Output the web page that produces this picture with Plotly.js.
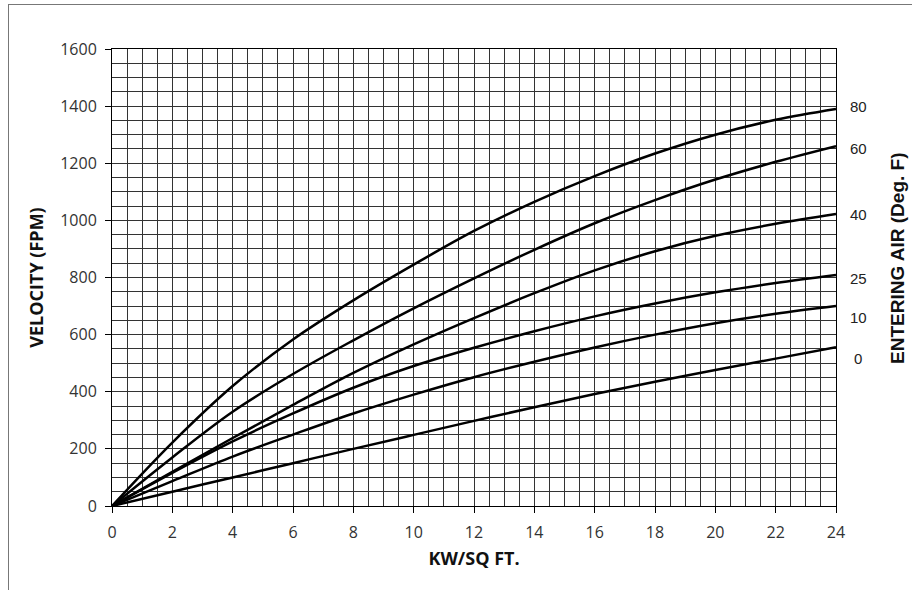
<!DOCTYPE html>
<html>
<head>
<meta charset="utf-8">
<script src="https://cdn.plot.ly/plotly-3.0.1.min.js"></script>
<style>
  html, body { margin: 0; padding: 0; background: #fff; }
  #wrap { position: relative; width: 912px; height: 590px; overflow: hidden; }
  #frame { position: absolute; left: 8px; top: 4px; width: 920px; height: 600px;
           border-left: 1px solid #777; border-top: 1px solid #777; pointer-events: none; }
  #chart { position: absolute; left: 0; top: 0; width: 912px; height: 590px; }
</style>
</head>
<body>
<div id="wrap">
  <div id="chart"></div>
  <div id="frame"></div>
</div>
<script>
// KW/SQ FT. values
const kw = [0, 2, 4, 6, 8, 10, 12, 14, 16, 18, 20, 22, 24];
// Velocity (FPM) for each entering air temperature (Deg. F)
const temps = ["80", "60", "40", "25", "10", "0"];
const v80 = [0, 222, 420, 583, 720, 845, 963, 1065, 1155, 1234, 1300, 1352, 1390];
const v60 = [0, 170, 330, 462, 580, 692, 797, 897, 990, 1071, 1143, 1205, 1260];
const v40 = [0, 120, 238, 354, 466, 566, 658, 745, 825, 892, 946, 988, 1022];
const v25 = [0, 116, 226, 324, 414, 490, 554, 612, 664, 709, 748, 781, 809];
const v10 = [0, 87, 173, 250, 324, 390, 451, 505, 555, 600, 640, 673, 700];
const v0  = [0, 50, 100, 150, 200, 249, 298, 346, 392, 435, 476, 516, 556];
const series = [v80, v60, v40, v25, v10, v0];

// label vertical nudges (px), style only
const labelShift = [2, -2, 0, -4, -11, -11];

const traces = series.map((vals, i) => ({
  x: kw, y: vals, type: 'scatter', mode: 'lines', name: temps[i],
  line: { color: '#000', width: 2.5, shape: 'spline', smoothing: 1 },
  hoverinfo: 'x+y+name', showlegend: false
}));

const annotations = series.map((vals, i) => ({
  x: kw[kw.length - 1], y: vals[vals.length - 1], xref: 'x', yref: 'y',
  text: temps[i], showarrow: false, xanchor: 'center', yanchor: 'middle',
  xshift: 22, yshift: labelShift[i],
  font: { family: 'Liberation Sans, Arial, sans-serif', size: 15, color: '#222' }
}));
annotations.push({
  xref: 'paper', yref: 'paper', x: 1.0856, y: 0.5427,
  text: '<b>ENTERING AIR (Deg. F)</b>', showarrow: false, textangle: -90,
  xanchor: 'center', yanchor: 'middle',
  font: { family: 'Liberation Sans, Arial, sans-serif', size: 19, color: '#111' }
});

const gridCol = '#333';
const layout = {
  width: 912, height: 590,
  margin: { l: 112, r: 76, t: 49, b: 84 },
  paper_bgcolor: '#fff', plot_bgcolor: '#fff',
  font: { family: 'Open Sans, sans-serif', color: '#333' },
  xaxis: {
    range: [0, 24], dtick: 2, tick0: 0,
    showgrid: true, gridcolor: gridCol, gridwidth: 1,
    minor: { dtick: 0.5, showgrid: true, gridcolor: gridCol, gridwidth: 1, ticks: '' },
    ticks: 'outside', ticklen: 6, tickcolor: '#000', tickwidth: 1,
    ticklabelstandoff: 6,
    showline: true, linecolor: '#000', linewidth: 1, mirror: true,
    zeroline: false, fixedrange: true,
    tickfont: { family: 'Open Sans, sans-serif', size: 16, color: '#333' },
    title: { text: '<b>KW/SQ FT.</b>', standoff: 10,
             font: { family: 'Open Sans, sans-serif', size: 18, color: '#111' } }
  },
  yaxis: {
    range: [0, 1600], dtick: 200, tick0: 0,
    showgrid: true, gridcolor: gridCol, gridwidth: 1,
    minor: { dtick: 50, showgrid: true, gridcolor: gridCol, gridwidth: 1, ticks: '' },
    ticks: 'outside', ticklen: 6, tickcolor: '#000', tickwidth: 1,
    ticklabelstandoff: 5,
    showline: true, linecolor: '#000', linewidth: 1, mirror: true,
    zeroline: false, fixedrange: true,
    tickfont: { family: 'Open Sans, sans-serif', size: 16, color: '#333' },
    title: { text: '<b>VELOCITY (FPM)</b>', standoff: 11,
             font: { family: 'Open Sans, sans-serif', size: 18, color: '#111' } }
  },
  annotations: annotations
};

Plotly.newPlot('chart', traces, layout, { displayModeBar: false, staticPlot: true });
</script>
</body>
</html>
